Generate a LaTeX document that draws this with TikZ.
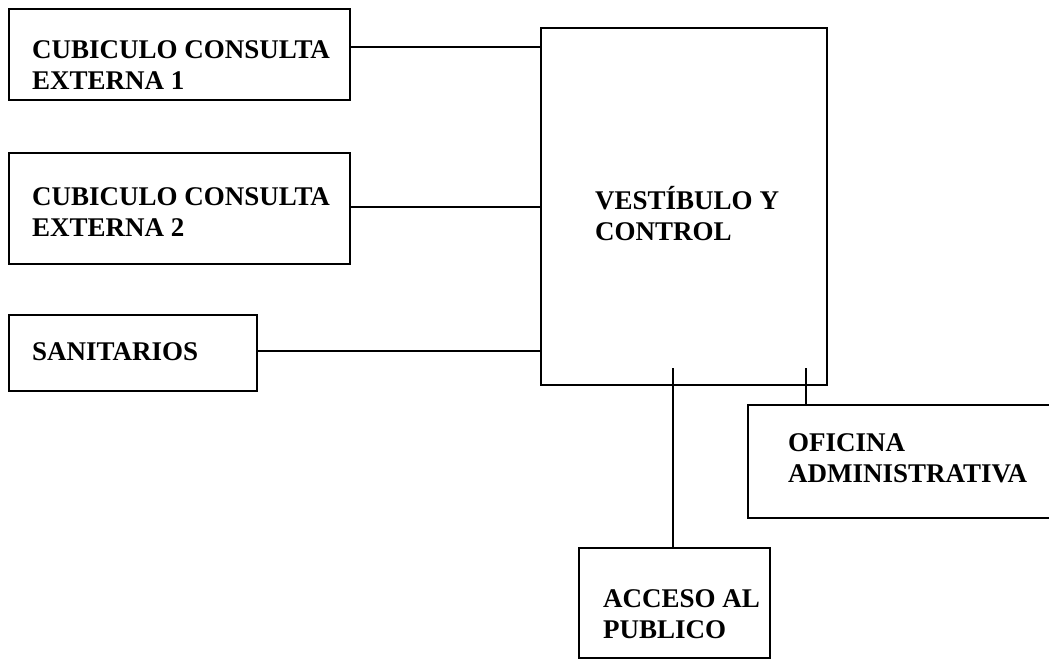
\documentclass[tikz,border=0pt]{standalone}
\usepackage{fontspec}
\setmainfont{Liberation Serif}
\usetikzlibrary{positioning}

\begin{document}
\begin{tikzpicture}[x=1pt, y=-1pt,
    room/.style={draw, line width=1.6pt, inner sep=0pt, anchor=north west},
    roomname/.style={anchor=west, align=left, inner sep=0pt,
        font=\fontsize{27}{31}\selectfont\bfseries},
    wire/.style={line width=1.6pt}]
    \useasboundingbox (0,0) rectangle (1049,660);
    % rooms
    \node[room, minimum width=341pt, minimum height=91pt] (cce1) at (8,8) {};
    \node[room, minimum width=341pt, minimum height=111pt] (cce2) at (8,152) {};
    \node[room, minimum width=248pt, minimum height=76pt] (sanit) at (8,314) {};
    \node[room, minimum width=286pt, minimum height=357pt] (vest) at (540,27) {};
    \node[room, minimum width=320pt, minimum height=113pt] (ofic) at (747,404) {};
    \node[room, minimum width=191pt, minimum height=110pt] (acceso) at (578,547) {};
    % room names
    \node[roomname] (cce1-txt) at (32,65) {CUBICULO CONSULTA\\EXTERNA 1};
    \node[roomname] (cce2-txt) at (32,212) {CUBICULO CONSULTA\\EXTERNA 2};
    \node[roomname] (sanit-txt) at (32,352) {SANITARIOS};
    \node[roomname] (vest-txt) at (595,214) {VEST\'IBULO Y\\CONTROL};
    \node[roomname] (ofic-txt) at (788,458) {OFICINA\\ADMINISTRATIVA};
    \node[roomname] (acceso-txt) at (603,614) {ACCESO AL\\PUBLICO};
    % joints
    \coordinate (j1) at (540,47);
    \coordinate (j2) at (540,207);
    \coordinate (j3) at (540,351);
    \coordinate (j4) at (673,368);
    \coordinate (j5) at (806,368);
    % connectors
    \draw[wire] (j1 -| cce1.east) -- (j1);
    \draw[wire] (j2 -| cce2.east) -- (j2);
    \draw[wire] (j3 -| sanit.east) -- (j3);
    \draw[wire] (j4) -- (j4 |- acceso.north);
    \draw[wire] (j5) -- (j5 |- ofic.north);
\end{tikzpicture}
\end{document}
